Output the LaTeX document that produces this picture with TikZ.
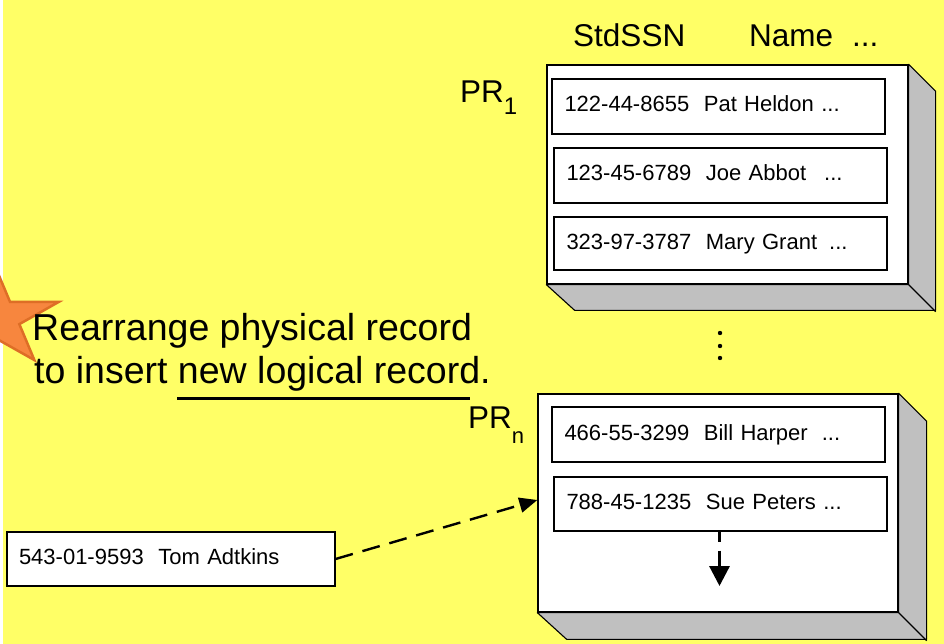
\documentclass[tikz,border=0pt]{standalone}
\usepackage{fontspec}
\setmainfont{Liberation Sans}
\usetikzlibrary{arrows.meta}
\definecolor{bg}{RGB}{255,255,102}
\definecolor{sidegray}{RGB}{192,192,192}
\definecolor{starfill}{RGB}{247,134,62}
\definecolor{starline}{RGB}{222,110,38}
\newcommand{\myfs}[1]{\fontsize{#1}{#1}\selectfont}
\begin{document}
\begin{tikzpicture}[x=1pt,y=-1pt,
  face/.style={draw=black, line width=1.3pt, fill=white, inner sep=0pt},
  sidepoly/.style={draw=black, line width=1.1pt, fill=sidegray, line join=round},
  rowbox/.style={draw=black, line width=1.1pt, fill=white, inner xsep=12.5pt, inner ysep=0pt,
    text width=308pt, align=left, text height=15pt, text depth=4pt, minimum height=55pt,
    font=\myfs{22}},
  tombox/.style={draw=black, line width=1.1pt, fill=white, inner xsep=12pt, inner ysep=0pt,
    text width=304pt, align=left, text height=15pt, text depth=5pt, minimum height=54pt,
    font=\myfs{22}},
  lbl/.style={anchor=base west, inner sep=0pt},
  dasharrow/.style={line width=2.4pt, dash pattern=on 18pt off 10pt,
    -{Triangle[length=18pt,width=15pt]}},
]
\useasboundingbox (0,0) rectangle (944,644);
\clip (0,0) rectangle (944,644);
\fill[bg] (0,0) rectangle (944,644);
\fill[white] (0,0) rectangle (3,644);

% star
\begin{scope}[shift={(-5,318)}, xscale=67, yscale=-52]
  \draw[fill=starfill, draw=starline, line width=2.5pt, line join=miter]
    (90:1) -- (54:0.382) -- (18:1) -- (-18:0.382) -- (-54:1) -- (-90:0.382)
    -- (-126:1) -- (-162:0.382) -- (162:1) -- (126:0.382) -- cycle;
\end{scope}

% headings
\node[lbl, font=\myfs{31.5}] (hssn) at (573,47) {StdSSN};
\node[lbl, font=\myfs{31.5}] (hname) at (749,47) {Name\hspace{19pt}...};

% PR1 block
\node[face, minimum width=361pt, minimum height=219pt] (pr1) at (727.5,174.5) {};
\draw[sidepoly] (pr1.north east) -- ++(27,27) -- ++(0,219) -- ++(-361,0)
  -- (pr1.south west) -- (pr1.south east) -- cycle;
\draw[line width=1.1pt] (pr1.south east) -- ++(27,27);
\node[lbl, font=\myfs{31.5}] (lpr1) at (460,103) {PR\raisebox{-12pt}{\myfs{24}1}};
\node[rowbox] (a1) at (718.5,106.5) {122-44-8655\ \ Pat Heldon ...};
\node[rowbox] (a2) at (720.5,175.5) {123-45-6789\ \ Joe Abbot\hspace{18pt}...};
\node[rowbox, minimum height=53pt] (a3) at (720.5,243.5) {323-97-3787\ \ Mary Grant\hspace{12pt}...};

% vertical ellipsis
\fill (720,333) circle (2.2);
\fill (720,346) circle (2.2);
\fill (720,358) circle (2.2);

% PRn block
\node[face, minimum width=360pt, minimum height=218pt] (prn) at (718,503) {};
\draw[sidepoly] (prn.north east) -- ++(28,28) -- ++(0,218) -- ++(-360,0)
  -- (prn.south west) -- (prn.south east) -- cycle;
\draw[line width=1.1pt] (prn.south east) -- ++(28,28);
\node[lbl, font=\myfs{31.5}] (lprn) at (468,428) {PR\raisebox{-15pt}{\myfs{22}n}};
\node[rowbox] (b1) at (718.5,434.5) {466-55-3299\ \ Bill Harper\hspace{14pt}...};
\node[rowbox, minimum height=54pt] (b2) at (720.5,504) {788-45-1235\ \ Sue Peters ...};
\coordinate (downtip) at (719.5,586);
\draw[line width=3.2pt, dash pattern=on 10pt off 9pt on 40pt, -{Triangle[length=20pt,width=20pt]}]
  ([xshift=-1pt]b2.south) -- (downtip);

% note text
\node[lbl, font=\myfs{37.5}] (note1) at (32,340) {Rearrange physical record};
\node[lbl, font=\myfs{37.5}] (note2) at (34,383) {to insert new logical record.};
\draw[line width=3pt] (177,398) -- (470,398);

% new record
\node[tombox] (tom) at (171,559) {543-01-9593\ \ Tom Adtkins};
\draw[dasharrow] (tom.east) -- ([yshift=3pt]prn.west);
\end{tikzpicture}
\end{document}
